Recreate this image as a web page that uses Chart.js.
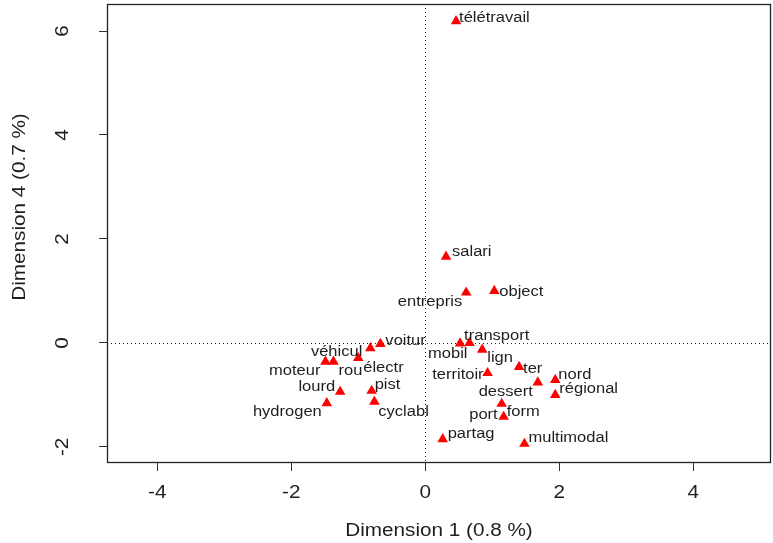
<!DOCTYPE html>
<html>
<head>
<meta charset="utf-8">
<script src="https://cdn.jsdelivr.net/npm/chart.js@4"></script>
<style>
  html, body { margin: 0; padding: 0; background: #ffffff; }
  #wrap { width: 773px; height: 543px; position: relative; }
</style>
</head>
<body>
<div id="wrap"><canvas id="c"></canvas></div>
<script>
// Word coordinates on the first and fourth dimensions
const words = ['télétravail', 'salari', 'entrepris', 'object', 'transport', 'mobil', 'lign',
  'territoir', 'ter', 'dessert', 'nord', 'régional', 'form', 'port', 'partag', 'multimodal',
  'voitur', 'véhicul', 'électr', 'rou', 'moteur', 'lourd', 'pist', 'hydrogen', 'cyclabl'];
const dim1 = [0.46, 0.31, 0.61, 1.03, 0.52, 0.66, 0.85,
  0.93, 1.40, 1.68, 1.94, 1.94, 1.14, 1.17, 0.26, 1.48,
  -0.67, -0.82, -1.00, -1.37, -1.49, -1.27, -0.80, -1.47, -0.76];
const dim4 = [6.19, 1.66, 0.97, 1.00, -0.01, 0.00, -0.13,
  -0.58, -0.46, -0.76, -0.71, -1.00, -1.17, -1.42, -1.85, -1.94,
  -0.02, -0.10, -0.29, -0.36, -0.36, -0.94, -0.92, -1.16, -1.13];
const xTicks = [-4, -2, 0, 2, 4];
const yTicks = [-2, 0, 2, 4, 6];
const xTitle = 'Dimension 1 (0.8 %)';
const yTitle = 'Dimension 4 (0.7 %)';

// Where each word sits around its marker: [dx, dy, textAlign]
const labelPlacement = [
  [3, -3, 'left'], [6, -4, 'left'], [-4, 10, 'right'], [5, 1, 'left'],
  [4, -7, 'left'], [-2, 11, 'right'], [5, 8, 'left'], [-4, 2, 'right'],
  [4, 2, 'left'], [-5, 10, 'right'], [3, -5, 'left'], [4, -6, 'left'],
  [5, 8, 'left'], [-6, -2, 'right'], [5, -5, 'left'], [4, -6, 'left'],
  [5, -3, 'left'], [-8, 4, 'right'], [5, 10, 'left'], [5, 10, 'left'],
  [-5, 10, 'right'], [-5, -5, 'right'], [3, -6, 'left'], [-5, 9, 'right'],
  [4, 10, 'left']
];

const FONT = '"Liberation Sans", Arial, sans-serif';
const INK = '#1e1e1e';

function drawText(ctx, text, x, y, align, rot, sx) {
  ctx.save();
  ctx.translate(x, y);
  if (rot) ctx.rotate(rot);
  ctx.scale(sx, 1);
  ctx.textAlign = align;
  ctx.textBaseline = 'middle';
  ctx.fillText(text, 0, 0);
  ctx.restore();
}

// Dotted reference lines through the origin, drawn under the markers
const originLines = {
  id: 'originLines',
  beforeDatasetsDraw(chart) {
    const { ctx, chartArea: a, scales: { x, y } } = chart;
    const px = Math.round(x.getPixelForValue(0)) + 0.5;
    const py = Math.round(y.getPixelForValue(0)) + 0.5;
    ctx.save();
    ctx.strokeStyle = '#222';
    ctx.lineWidth = 1;
    ctx.setLineDash([1, 3]);
    ctx.beginPath();
    ctx.moveTo(px, a.top); ctx.lineTo(px, a.bottom);
    ctx.moveTo(a.left, py); ctx.lineTo(a.right, py);
    ctx.stroke();
    ctx.restore();
  }
};

// Word labels next to the markers
const pointLabels = {
  id: 'pointLabels',
  afterDatasetsDraw(chart) {
    const ctx = chart.ctx;
    const meta = chart.getDatasetMeta(0);
    ctx.save();
    ctx.fillStyle = INK;
    ctx.font = '14px ' + FONT;
    meta.data.forEach((pt, i) => {
      const [dx, dy, al] = labelPlacement[i];
      drawText(ctx, words[i], pt.x + dx, pt.y + dy, al, 0, 1.18);
    });
    ctx.restore();
  }
};

// Plot frame, tick labels and axis titles
const frame = {
  id: 'frame',
  afterDraw(chart) {
    const { ctx, chartArea: a, scales: { x, y } } = chart;
    ctx.save();
    ctx.strokeStyle = '#222';
    ctx.lineWidth = 1.3;
    ctx.strokeRect(a.left + 0.5, a.top + 0.5, a.right - a.left - 1, a.bottom - a.top - 1);
    ctx.fillStyle = INK;
    ctx.font = '18px ' + FONT;
    x.ticks.forEach(t => drawText(ctx, String(t.value), x.getPixelForValue(t.value), 493, 'center', 0, 1.15));
    y.ticks.forEach(t => drawText(ctx, String(t.value), 63, y.getPixelForValue(t.value), 'center', -Math.PI / 2, 1.15));
    drawText(ctx, xTitle, (a.left + a.right) / 2, 531, 'center', 0, 1.15);
    drawText(ctx, yTitle, 20, 207, 'center', -Math.PI / 2, 1.15);
    ctx.restore();
  }
};

const axisGrid = { drawOnChartArea: false, drawTicks: true, tickLength: 8, color: '#333', tickColor: '#333', lineWidth: 1 };

new Chart(document.getElementById('c'), {
  type: 'scatter',
  data: {
    datasets: [{
      data: dim1.map((v, i) => ({ x: v, y: dim4[i] })),
      pointStyle: 'triangle',
      pointRadius: 6.1,
      pointHoverRadius: 6.1,
      backgroundColor: '#ff0000',
      borderColor: '#ff0000',
      borderWidth: 0
    }]
  },
  options: {
    responsive: true,
    maintainAspectRatio: false,
    animation: false,
    events: [],
    layout: { autoPadding: false, padding: { top: 4, right: 2, bottom: 0, left: 0 } },
    plugins: { legend: { display: false }, tooltip: { enabled: false } },
    scales: {
      x: {
        type: 'linear', min: -4.75, max: 5.16,
        afterBuildTicks: s => { s.ticks = xTicks.map(v => ({ value: v })); },
        afterFit: s => { s.height = 80; },
        ticks: { display: false },
        grid: axisGrid,
        border: { display: false }
      },
      y: {
        type: 'linear', min: -2.31, max: 6.52,
        afterBuildTicks: s => { s.ticks = yTicks.map(v => ({ value: v })); },
        afterFit: s => { s.width = 107; },
        ticks: { display: false },
        grid: axisGrid,
        border: { display: false }
      }
    }
  },
  plugins: [originLines, pointLabels, frame]
});
</script>
</body>
</html>
